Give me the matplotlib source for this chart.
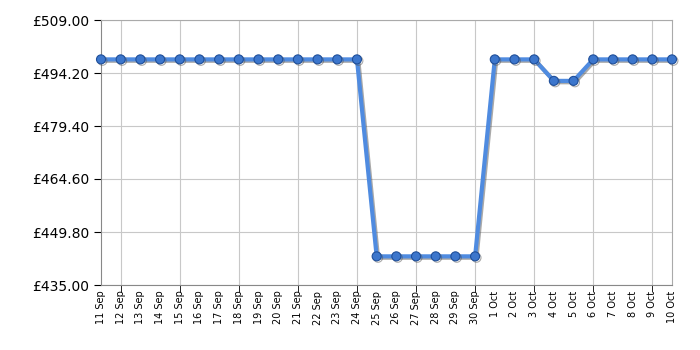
import numpy as np
import matplotlib.pyplot as plt
import matplotlib.patheffects as pe

dates = ["11 Sep", "12 Sep", "13 Sep", "14 Sep", "15 Sep", "16 Sep", "17 Sep", "18 Sep",
         "19 Sep", "20 Sep", "21 Sep", "22 Sep", "23 Sep", "24 Sep", "25 Sep", "26 Sep",
         "27 Sep", "28 Sep", "29 Sep", "30 Sep", "1 Oct", "2 Oct", "3 Oct", "4 Oct",
         "5 Oct", "6 Oct", "7 Oct", "8 Oct", "9 Oct", "10 Oct"]
prices = [498.0] * 14 + [443.0] * 6 + [498.0] * 3 + [492.0] * 2 + [498.0] * 5
yticks = [435.00, 449.80, 464.60, 479.40, 494.20, 509.00]

fig = plt.figure(figsize=(7, 3.5), dpi=100)
ax = fig.add_axes([101 / 700, 1 - 285 / 350, 571 / 700, 265 / 350])

x = np.arange(len(dates))
shadow = [pe.SimpleLineShadow(offset=(1, -1), shadow_color="#555555", alpha=0.5), pe.Normal()]
ax.plot(x, prices, color="#4f8be0", lw=3, marker="o", ms=6.5,
        mfc="#3c76cc", mec="#1f4f9a", mew=0.8, path_effects=shadow, zorder=3, clip_on=False)

ax.set_xlim(0, len(dates) - 1)
ax.set_ylim(435, 509)
ax.set_yticks(yticks)
ax.set_yticklabels(["£%.2f" % v for v in yticks], fontsize=10)

ax.xaxis.remove_overlapping_locs = False
ax.set_xticks(x)
ax.set_xticklabels(dates, rotation=90, fontsize=7)
grid_idx = list(range(1, len(dates), 3))
ax.set_xticks(grid_idx, minor=True)
ax.tick_params(axis="x", which="major", length=0, pad=4)
ax.tick_params(axis="x", which="minor", length=5, color="black")
ax.tick_params(axis="y", length=5, color="black")

ax.grid(True, axis="y", color="#c8c8c8", lw=0.8)
ax.grid(True, axis="x", which="minor", color="#c8c8c8", lw=0.8)
for s in ax.spines.values():
    s.set_color("#aaaaaa")
ax.spines["bottom"].set_color("#888888")
ax.spines["left"].set_color("#888888")

fig.savefig("out.png", dpi=100)
